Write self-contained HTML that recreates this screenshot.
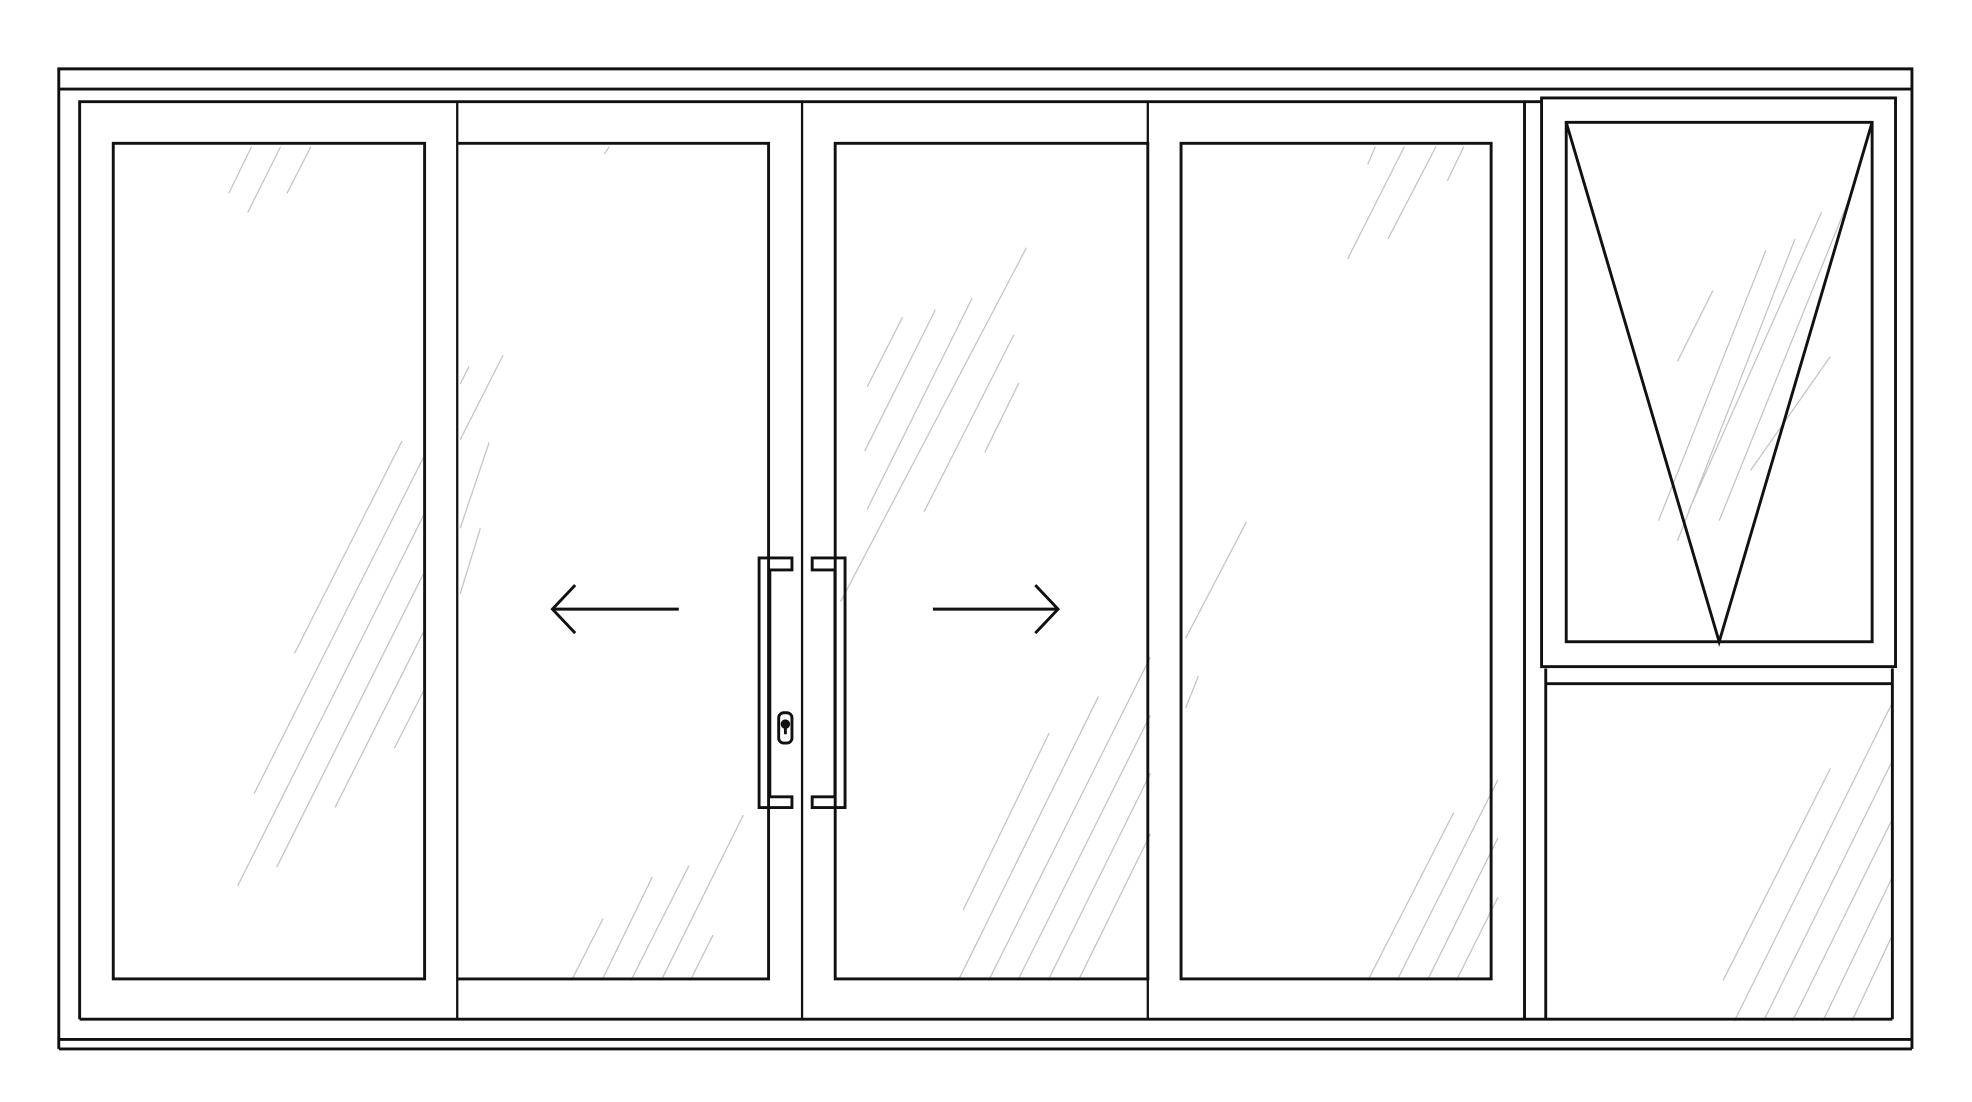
<!DOCTYPE html>
<html><head><meta charset="utf-8"><style>html,body{margin:0;padding:0;background:#fff}svg{display:block}</style></head>
<body>
<svg width="1972" height="1102" viewBox="0 0 1560 872" preserveAspectRatio="none" xmlns="http://www.w3.org/2000/svg">
<rect width="1560" height="872" fill="#fff"/>
<g stroke="#c4c4c4" stroke-width="1" fill="none">
<line x1="181" y1="153" x2="199" y2="116"/><line x1="196" y1="168" x2="222" y2="116"/><line x1="227" y1="153" x2="246" y2="116"/>
<line x1="233" y1="517" x2="318" y2="349"/><line x1="201" y1="628" x2="336" y2="360"/><line x1="188" y1="701" x2="336" y2="406"/><line x1="219" y1="686" x2="336" y2="452"/><line x1="265" y1="639" x2="336" y2="498"/><line x1="312" y1="592" x2="336" y2="545"/>
<line x1="478" y1="122" x2="482" y2="116"/>
<line x1="364" y1="304" x2="371" y2="290"/><line x1="364" y1="348" x2="398" y2="281"/><line x1="364" y1="418" x2="387" y2="350"/><line x1="364" y1="470" x2="380" y2="418"/>
<line x1="452" y1="776" x2="477" y2="727"/><line x1="476" y1="776" x2="516" y2="694"/><line x1="499" y1="776" x2="545" y2="685"/><line x1="523" y1="776" x2="588" y2="645"/><line x1="546" y1="776" x2="564" y2="740"/>
<line x1="686" y1="306" x2="714" y2="251"/><line x1="684" y1="357" x2="740" y2="245"/><line x1="686" y1="403" x2="769" y2="236"/><line x1="665" y1="476" x2="812" y2="196"/><line x1="731" y1="405" x2="802" y2="265"/><line x1="779" y1="358" x2="806" y2="303"/>
<line x1="762" y1="720" x2="830" y2="580"/><line x1="758" y1="776" x2="869" y2="551"/><line x1="782" y1="776" x2="910" y2="520"/><line x1="805" y1="776" x2="910" y2="566"/><line x1="829" y1="776" x2="910" y2="612"/><line x1="853" y1="776" x2="910" y2="660"/>
<line x1="1082" y1="130" x2="1088" y2="116"/><line x1="1066" y1="205" x2="1111" y2="116"/><line x1="1098" y1="189" x2="1136" y2="116"/><line x1="1145" y1="143" x2="1158" y2="116"/>
<line x1="938" y1="505" x2="986" y2="413"/><line x1="938" y1="560" x2="948" y2="535"/>
<line x1="1082" y1="776" x2="1150" y2="643"/><line x1="1105" y1="776" x2="1185" y2="617"/><line x1="1129" y1="776" x2="1185" y2="663"/><line x1="1152" y1="776" x2="1185" y2="710"/>
<line x1="1327" y1="286" x2="1355" y2="230"/><line x1="1312" y1="412" x2="1397" y2="198"/><line x1="1327" y1="428" x2="1420" y2="189"/><line x1="1336" y1="404" x2="1441" y2="168"/><line x1="1360" y1="412" x2="1467" y2="147"/><line x1="1385" y1="372" x2="1448" y2="282"/>
<line x1="1363" y1="776" x2="1448" y2="608"/><line x1="1372" y1="808" x2="1497" y2="556"/><line x1="1395" y1="808" x2="1497" y2="602"/><line x1="1418" y1="808" x2="1497" y2="648"/><line x1="1442" y1="808" x2="1497" y2="694"/><line x1="1465" y1="808" x2="1497" y2="740"/>
</g>
<g stroke="#111" stroke-width="2.3" fill="none" stroke-linejoin="miter">
<polyline points="46.5,830 46.5,54.5 1512.5,54.5 1512.5,830"/>
<line x1="46.5" y1="70.5" x2="1512.5" y2="70.5"/>
<line x1="46.5" y1="822.5" x2="1512.5" y2="822.5"/>
<line x1="46.5" y1="830" x2="1512.5" y2="830"/>
<polyline points="63,806.5 63,80.5 1219,80.5"/>
<line x1="63" y1="806.5" x2="1497" y2="806.5"/>
<line x1="361.7" y1="80.5" x2="361.7" y2="806.5" stroke-width="1.8"/>
<line x1="634.5" y1="80.5" x2="634.5" y2="806.5" stroke-width="1.8"/>
<line x1="908" y1="80.5" x2="908" y2="806.5" stroke-width="1.8"/>
<line x1="1206" y1="80.5" x2="1206" y2="806.5"/>
<line x1="1222.8" y1="529" x2="1222.8" y2="806.5"/>
<line x1="1497" y1="529" x2="1497" y2="806.5"/>
<line x1="1222.8" y1="541" x2="1497" y2="541"/>
<rect x="89.6" y="113.4" width="246.3" height="661.2"/>
<polyline points="361.7,113.4 608,113.4 608,774.6 361.7,774.6"/>
<rect x="660.7" y="113.4" width="247.3" height="661.2" fill="none"/>
<rect x="934.3" y="113.4" width="245.3" height="661.2"/>
<rect x="1219.5" y="77.5" width="280" height="450"/>
<rect x="1239" y="96.8" width="242" height="411"/>
<polyline points="1239,96.8 1360,507.8 1481,96.8"/>
<line x1="437" y1="482" x2="537" y2="482"/>
<polyline points="455,463 437,482 455,501"/>
<line x1="738" y1="482" x2="837" y2="482"/>
<polyline points="819,463 837,482 819,501"/>
<path d="M600.5,441.5 H626.5 V451 H609 V630.5 H626.5 V639 H600.5 Z"/>
<path d="M668.5,441.5 H642.5 V451 H660.5 V630.5 H642.5 V639 H668.5 Z"/>
<rect x="616" y="564" width="10.5" height="24" rx="4"/>
<circle cx="621.3" cy="573" r="2.6" fill="#111"/>
<line x1="621.3" y1="573" x2="621.3" y2="581"/>
</g>
</svg>
</body></html>
